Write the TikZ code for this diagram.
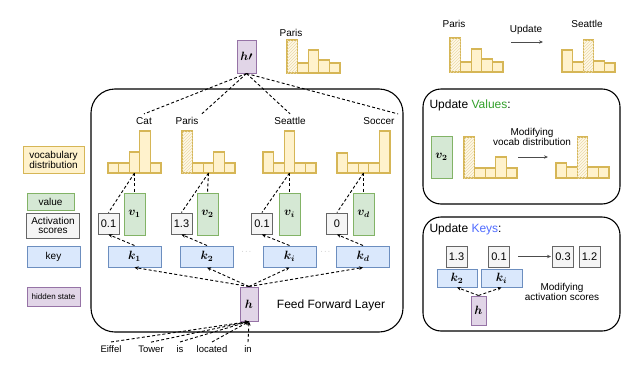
\documentclass[tikz,border=0pt]{standalone}
\usepackage{amsmath,bm}
\usepackage{fontspec}
\setmainfont{Liberation Sans}
\usepackage{tikz}
\usetikzlibrary{arrows.meta,patterns}
\definecolor{yfill}{HTML}{FFF2CC}
\definecolor{ydraw}{HTML}{D6B656}
\definecolor{gfill}{HTML}{D5E8D4}
\definecolor{gdraw}{HTML}{82B366}
\definecolor{bfill}{HTML}{DAE8FC}
\definecolor{bdraw}{HTML}{6C8EBF}
\definecolor{pfill}{HTML}{E1D5E7}
\definecolor{pdraw}{HTML}{9673A6}
\definecolor{sfill}{HTML}{F5F5F5}
\definecolor{sdraw}{HTML}{666666}
\definecolor{valtxt}{HTML}{33A02C}
\definecolor{keytxt}{HTML}{4F6BFF}
\newcommand{\vocab}[5]{%
  \foreach \hh [count=\ii] in {#4} {
    \ifnum\ii=#5
      \draw[bar,hatched] ({#2+(\ii-1)*10.6},#3) rectangle ++(10.6,-\hh);
    \else
      \draw[bar] ({#2+(\ii-1)*10.6},#3) rectangle ++(10.6,-\hh);
    \fi
  }
  \coordinate (#1) at ({#2+26.5},#3);
}

\begin{document}
\begin{tikzpicture}[x=1pt,y=-1pt,>={Stealth[length=4pt,width=3.6pt]},
  bar/.style={draw=ydraw,fill=yfill,line width=1.1pt},
  hatched/.style={fill=yfill!45,postaction={pattern=north east lines,pattern color=ydraw!50}},
  key/.style={draw=bdraw,fill=bfill,line width=1pt,minimum width=53pt,minimum height=21pt,inner sep=0pt,font=\large},
  val/.style={draw=gdraw,fill=gfill,line width=1pt,minimum width=21pt,minimum height=42pt,inner sep=0pt,font=\large},
  score/.style={draw=sdraw,fill=sfill,line width=1pt,minimum width=21pt,minimum height=21pt,inner sep=0pt,font=\fontsize{11}{13}\selectfont},
  hid/.style={draw=pdraw,fill=pfill,line width=1pt,minimum width=18pt,minimum height=34pt,inner sep=0pt,font=\large},
  legend/.style={line width=1pt,minimum width=53pt,inner sep=0pt,align=center},
  panel/.style={line width=1.1pt,rounded corners=18pt},
  dline/.style={line width=0.9pt,dash pattern=on 3pt off 2.2pt},
  garrow/.style={->,draw=black!70,line width=0.7pt,>={Stealth[length=4pt,width=3.4pt]}},
  word/.style={font=\fontsize{9.5}{11}\selectfont}]
  \useasboundingbox (0,0) rectangle (640,367);

  % legend
  \node[legend,draw=ydraw,fill=yfill,minimum width=61pt,minimum height=27pt] (lvocab) at (53.5,159.5) {vocabulary\\[-2pt]distribution};
  \node[legend,draw=gdraw,fill=gfill,minimum width=47pt,minimum height=17pt] (lvalue) at (50.5,201.5) {value};
  \node[legend,draw=sdraw,fill=sfill,minimum height=25pt] (lscore) at (53,225.5) {Activation\\[-3pt]scores};
  \node[legend,draw=bdraw,fill=bfill,minimum height=21pt] (lkey) at (53.5,256.5) {key};
  \node[legend,draw=pdraw,fill=pfill,minimum height=19pt,font=\footnotesize] (lhid) at (53.5,296.5) {hidden state};

  % feed forward layer
  \draw[panel,rounded corners=24pt] (91,89) rectangle (403,332);
  \node[font=\large] (ffl) at (331,305) {Feed Forward Layer};

  \node[hid,minimum width=19pt,minimum height=33pt] (hp) at (246.5,56.5) {$\bm{h\prime}$};
  \node (parist) at (291,33) {Paris};
  \vocab{parisb}{287}{73}{33,10,23,13,10}{1}

  \node (cat) at (144,121) {Cat};
  \node (paris) at (187,121) {Paris};
  \node (seattle) at (290,121) {Seattle};
  \node (soccer) at (379,121) {Soccer};
  \vocab{catb}{108}{173}{10,10,21,42,10}{0}
  \vocab{parisc}{182}{173}{42,10,10,21,10}{1}
  \vocab{seattleb}{263}{173}{21,10,42,10,10}{0}
  \vocab{soccerb}{337}{173}{20,10,10,10,42}{0}

  \node[score] (s1) at (108.5,223.5) {0.1};
  \node[val] (v1) at (134.5,214) {$\bm{v_1}$};
  \node[key] (k1) at (134.5,256.5) {$\bm{k_1}$};
  \node[score] (s2) at (181.5,223.5) {1.3};
  \node[val] (v2) at (207.5,214) {$\bm{v_2}$};
  \node[key] (k2) at (207,256.5) {$\bm{k_2}$};
  \node[score] (si) at (262,223.5) {0.1};
  \node[val] (vi) at (289.5,214) {$\bm{v_i}$};
  \node[key] (ki) at (289.5,256.5) {$\bm{k_i}$};
  \node[score] (sd) at (337,223.5) {0};
  \node[val] (vd) at (363.5,214) {$\bm{v_d}$};
  \node[key] (kd) at (363,256.5) {$\bm{k_d}$};
  \node[text=gray,font=\scriptsize] (dots1) at (247,252) {$\cdots$};
  \node[text=gray,font=\scriptsize] (dots2) at (326,252) {$\cdots$};

  \node[hid] (h) at (249,304) {$\bm{h}$};

  \node[word] (eiffel) at (111,349) {Eiffel};
  \node[word] (tower) at (151,349) {Tower};
  \node[word] (is) at (180,349) {is};
  \node[word] (located) at (212,349) {located};
  \node[word] (in) at (248,349) {in};

  \draw[dline] (hp.south) -- (cat.north);
  \draw[dline] (hp.south) -- (paris.north east);
  \draw[dline] (hp.south) -- (seattle.north);
  \draw[dline] (hp.south) -- (soccer.north east);

  \draw[dline] (catb) -- (s1.north);
  \draw[dline] (catb) -- (v1.north);
  \draw[dline] (parisc) -- (s2.north);
  \draw[dline] (parisc) -- (v2.north);
  \draw[dline] (seattleb) -- (si.north);
  \draw[dline] (seattleb) -- (vi.north);
  \draw[dline] (soccerb) -- (sd.north);
  \draw[dline] (soccerb) -- (vd.north);

  \draw[dline,->] (k1.north) -- (s1.south);
  \draw[dline,->] (k2.north) -- (s2.south);
  \draw[dline,->] (ki.north) -- (si.south);
  \draw[dline,->] (kd.north) -- (sd.south);

  \draw[dline,->] (h.north) -- (k1.south);
  \draw[dline,->] (h.north) -- (k2.south);
  \draw[dline,->] (h.north) -- (ki.south);
  \draw[dline,->] (h.north) -- (kd.south);

  \draw[dline,->] (eiffel.north) -- (h.south);
  \draw[dline,->] (tower.north) -- (h.south);
  \draw[dline,->] (is.north) -- (h.south);
  \draw[dline,->] (located.north) -- (h.south);
  \draw[dline,->] (in.north) -- (h.south);

  % update example
  \node (parisr) at (454,24) {Paris};
  \node (seattler) at (587,24) {Seattle};
  \node (update) at (526,30) {Update};
  \vocab{parisrb}{450}{72}{34,10,23,13,10}{1}
  \vocab{seattlerb}{562}{72}{22,10,32,11,9}{3}
  \coordinate (upa) at (511,42);
  \coordinate (upb) at (543,42);
  \draw[garrow] (upa) -- (upb);

  % update values
  \draw[panel] (423,89) rectangle (620,204);
  \node[anchor=west,font=\large] (updv) at (426,105) {Update \textcolor{valtxt}{Values}:};
  \node[val] (v2u) at (441.5,157) {$\bm{v_2}$};
  \vocab{vleft}{464}{178}{41,10,10,21,10}{1}
  \vocab{vright}{556}{178}{15,11,41,11,11}{3}
  \node[align=center] (modv) at (532,137) {Modifying\\[-2pt]vocab distribution};
  \coordinate (mva) at (518,157);
  \coordinate (mvb) at (548,157);
  \draw[garrow] (mva) -- (mvb);

  % update keys
  \draw[panel] (423,217) rectangle (620,331);
  \node[anchor=west,font=\large] (updk) at (426,229) {Update \textcolor{keytxt}{Keys}:};
  \node[score] (s2k) at (456.5,256.5) {1.3};
  \node[score] (sik) at (499,256.5) {0.1};
  \node[score] (s3k) at (563,256.5) {0.3};
  \node[score] (s4k) at (589.5,256.5) {1.2};
  \draw[garrow,shorten <=8pt,shorten >=1pt] (sik.east) -- (s3k.west);
  \node[key,minimum width=40pt,minimum height=18pt] (k2k) at (457,278) {$\bm{k_2}$};
  \node[key,minimum width=41pt,minimum height=18pt] (kik) at (501.5,278) {$\bm{k_i}$};
  \node[hid,minimum width=15pt,minimum height=29pt] (hk) at (478.5,310.5) {$\bm{h}$};
  \draw[dline,->] (hk.north) -- (k2k.south);
  \draw[dline,->] (hk.north) -- (kik.south);
  \node[align=center] (modk) at (562,292) {Modifying\\[-2pt]activation scores};
\end{tikzpicture}
\end{document}
